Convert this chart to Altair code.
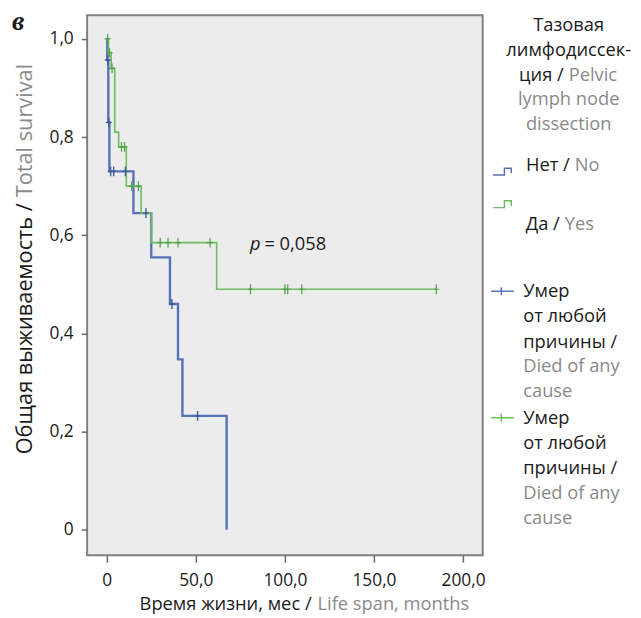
import altair as alt
import pandas as pd

# ---------------- data ----------------
# Kaplan-Meier curve, "Нет / No" (blue)
no_time = [0, 0.3, 0.9, 1.5, 15, 25, 35.5, 40, 42.5, 67.3]
no_surv = [1.0, 0.957, 0.83, 0.73, 0.645, 0.555, 0.46, 0.347, 0.232, 0.0]
no_cens_time = [0.6, 1.2, 2.2, 3.9, 10.5, 22, 36.6, 51]
no_cens_surv = [0.957, 0.83, 0.73, 0.73, 0.73, 0.645, 0.46, 0.232]

# Kaplan-Meier curve, "Да / Yes" (green)
yes_time = [0, 1.0, 2.5, 4.5, 6.7, 11, 19.3, 25, 61.7, 185]
yes_surv = [1.0, 0.972, 0.94, 0.81, 0.78, 0.70, 0.645, 0.585, 0.49, 0.49]
yes_cens_time = [0.5, 1.6, 3.0, 8.3, 10.0, 14, 17.8, 30, 34.4, 40, 58, 80.7, 100, 101.6, 109.5, 185]
yes_cens_surv = [1.0, 0.972, 0.94, 0.78, 0.78, 0.70, 0.70, 0.585, 0.585, 0.585, 0.585,
                 0.49, 0.49, 0.49, 0.49, 0.49]

x_ticks = [0, 50, 100, 150, 200]
y_ticks = [0, 0.2, 0.4, 0.6, 0.8, 1.0]

p_text = "= 0,058"
p_pos = [88.5, 0.583]

# ---------------- styles ----------------
BLUE = "#5572b6"
BLUE_D = "#3f5a9c"
GREEN = "#6dbd5f"
GREEN_D = "#4f9e45"
BLACK = "#1a1a1a"
GRAY = "#8a8a8a"
FONT = "Open Sans"
FS = 18.5

xs = alt.Scale(domain=[-11, 211], nice=False, zero=False)
ys = alt.Scale(domain=[-0.052, 1.048], nice=False, zero=False)

LBL = "datum.value == 0 ? '0' : replace(format(datum.value, '.1f'), '.', ',')"
XAXIS = alt.Axis(values=x_ticks, labelExpr=LBL, title=None, domain=False, grid=False,
                 tickSize=7, tickWidth=1.5, tickColor="#6a6a6a", labelFont=FONT,
                 labelFontSize=17.5, labelColor=BLACK, labelPadding=10)
YAXIS = alt.Axis(values=y_ticks, labelExpr=LBL, title=None, domain=False, grid=False,
                 tickSize=6, tickWidth=1.5, tickColor="#6a6a6a", labelFont=FONT,
                 labelFontSize=17.5, labelColor=BLACK, labelPadding=8)


def xe(f):
    return alt.X(f, type="quantitative", scale=xs, axis=XAXIS)


def ye(f):
    return alt.Y(f, type="quantitative", scale=ys, axis=YAXIS)


no_df = pd.DataFrame({"t": no_time, "s": no_surv})
yes_df = pd.DataFrame({"t": yes_time, "s": yes_surv})
no_c = pd.DataFrame({"t": no_cens_time, "s": no_cens_surv})
yes_c = pd.DataFrame({"t": yes_cens_time, "s": yes_cens_surv})

CROSS = "M0,-1V1M-0.6,0H0.6"

line_no = alt.Chart(no_df).mark_line(interpolate="step-after", color=BLUE, strokeWidth=2.4).encode(
    x=xe("t"), y=ye("s"))
line_yes = alt.Chart(yes_df).mark_line(interpolate="step-after", color=GREEN, strokeWidth=1.6).encode(
    x=xe("t"), y=ye("s"))
cens_no = alt.Chart(no_c).mark_point(shape=CROSS, filled=False, size=100, strokeWidth=1.4,
                                     color=BLUE_D, opacity=1).encode(x=xe("t"), y=ye("s"))
cens_yes = alt.Chart(yes_c).mark_point(shape=CROSS, filled=False, size=100, strokeWidth=1.2,
                                       color=GREEN_D, opacity=1).encode(x=xe("t"), y=ye("s"))

p_df = pd.DataFrame({"t": [p_pos[0]], "s": [p_pos[1]]})
p_italic = alt.Chart(p_df).mark_text(text="p", align="right", baseline="middle", dx=-4,
                                     fontSize=FS, font=FONT, fontStyle="italic", color=BLACK).encode(
    x=xe("t"), y=ye("s"))
p_val = alt.Chart(p_df).mark_text(text=p_text, align="left", baseline="middle",
                                  fontSize=FS, font=FONT, color=BLACK).encode(x=xe("t"), y=ye("s"))

# ---------------- text / legend helpers (layout in pixels) ----------------
anchor = pd.DataFrame({"k": [0]})


def label(text, x, y, color=BLACK, align="left", size=FS, angle=None, font=FONT,
          style=None, weight=None, baseline="middle"):
    kw = dict(text=text, align=align, baseline=baseline, fontSize=size, font=font, color=color)
    if angle is not None:
        kw["angle"] = angle
    if style:
        kw["fontStyle"] = style
    if weight:
        kw["fontWeight"] = weight
    return alt.Chart(anchor).mark_text(**kw).encode(x=alt.value(x), y=alt.value(y))


def symbol(shape, x, y, color, size):
    return alt.Chart(anchor).mark_point(shape=shape, filled=False, size=size, strokeWidth=1.5,
                                        color=color, opacity=1).encode(x=alt.value(x), y=alt.value(y))


STEP = "M-1,0.3H0V-0.3H0.6V0.15"
PLUS = "M-1,0H1M-0.1,-0.35V0.35"

legend_title = [("Тазовая", 10, BLACK), ("лимфодиссек-", 35, BLACK),
                ("lymph node", 85, GRAY), ("dissection", 110, GRAY)]
died_ru = ["Умер", "от любой", "причины /"]
died_en = ["Died of any", "cause"]

texts = []
for t, y, c in legend_title:
    texts.append(label(t, 487, y, c, align="center"))
texts.append(label("ция /", 482, 60, BLACK, align="right"))
texts.append(label("Pelvic", 487, 60, GRAY, align="left"))

texts.append(symbol(STEP, 422, 158, BLUE, 529))
texts.append(label("Нет /", 488, 151, BLACK, align="right"))
texts.append(label("No", 493, 151, GRAY, align="left"))

texts.append(symbol(STEP, 422, 191, GREEN, 529))
texts.append(label("Да /", 478, 211, BLACK, align="right"))
texts.append(label("Yes", 483, 211, GRAY, align="left"))

for base, col in [(279, BLUE), (407, GREEN)]:
    texts.append(symbol(PLUS, 420, base, col, 529))
    ys_ = [base, base + 25.5, base + 51, base + 76, base + 101]
    for i, t in enumerate(died_ru):
        texts.append(label(t, 441, ys_[i], BLACK))
    for i, t in enumerate(died_en):
        texts.append(label(t, 441, ys_[3 + i], GRAY))

# axis titles (two-colour)
texts.append(label("Общая выживаемость /", -63, 190, BLACK, align="right", size=22, angle=270))
texts.append(label("Total survival", -63, 184, GRAY, align="left", size=22, angle=270))
texts.append(label("Время жизни, мес /", 227, 595, BLACK, align="right"))
texts.append(label("Life span, months", 233, 595, GRAY, align="left"))

# panel letter
texts.append(label("в", -76, 15, BLACK, align="left", size=28, font="Liberation Serif",
                   style="italic", weight="bold", baseline="alphabetic"))

chart = alt.layer(line_no, line_yes, cens_no, cens_yes, p_italic, p_val, *texts).properties(
    width=400, height=546,
    autosize=alt.AutoSizeParams(type="none"),
    padding={"left": 80, "top": 4, "right": 152, "bottom": 60},
    background="white",
).configure_view(fill="#ececec", stroke="#808080", strokeWidth=2)

chart.save("out.html", embed_options={"renderer": "svg", "actions": False})
